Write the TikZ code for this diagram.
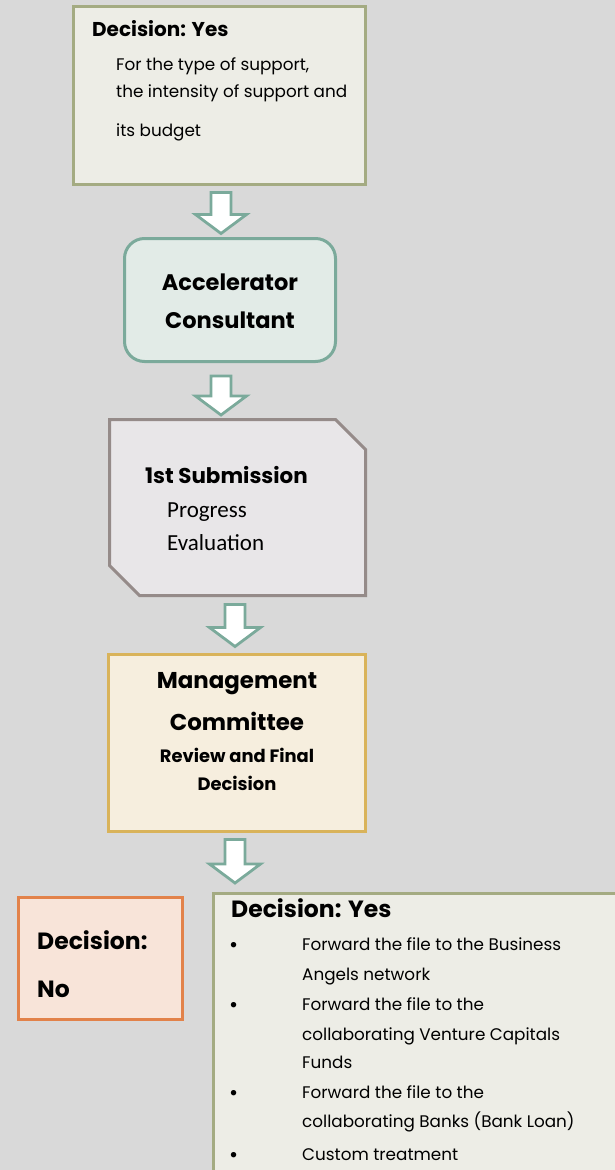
\documentclass[tikz,border=0pt]{standalone}
\usepackage{fontspec}
\setmainfont{Poppins}
\newfontfamily\califont{Carlito}
\usetikzlibrary{calc,positioning}

\definecolor{bggray}{HTML}{D9D9D9}
\definecolor{olivedraw}{HTML}{A4AB82}
\definecolor{olivefill}{HTML}{EDEDE6}
\definecolor{tealdraw}{HTML}{7BAA9B}
\definecolor{tealfill}{HTML}{E2EBE7}
\definecolor{greydraw}{HTML}{958B89}
\definecolor{greyfill}{HTML}{E8E6E8}
\definecolor{golddraw}{HTML}{D9B35A}
\definecolor{goldfill}{HTML}{F6EEDE}
\definecolor{orangedraw}{HTML}{E2824A}
\definecolor{orangefill}{HTML}{F8E4D9}

\tikzset{
  box/.style={line width=3pt, inner sep=0pt},
  yesbox/.style={box, draw=olivedraw, fill=olivefill},
  consbox/.style={box, draw=tealdraw, fill=tealfill, rounded corners=20pt},
  subbox/.style={box, outer sep=0pt},
  subline/.style={line width=3pt, draw=greydraw, fill=greyfill, line join=miter},
  mgmtbox/.style={box, draw=golddraw, fill=goldfill},
  nobox/.style={box, draw=orangedraw, fill=orangefill},
  blockarrow/.style={draw=tealdraw, fill=white, line width=2.8pt, line join=miter},
  head/.style={inner sep=0pt, anchor=base west, font=\bfseries\fontsize{20}{24}\selectfont},
  body/.style={inner sep=0pt, anchor=base west, font=\fontsize{16.8}{20}\selectfont},
  bulletmark/.style={inner sep=0pt, anchor=base west, text depth=0pt, font=\fontsize{22}{24}\selectfont},
  mid/.style={inner sep=0pt, anchor=base, font=\bfseries\fontsize{22.5}{26}\selectfont},
}

% block arrow: from, to, xshift, top gap, tip gap
\newcommand{\downblock}[5]{%
  \coordinate (s) at ($(#1.south)+(#3,#4)$);
  \coordinate (t) at ($(s |- #2.north)+(0,-#5)$);
  \draw[blockarrow] ($(s)+(-10,0)$) -- ($(s)+(10,0)$) -- ($(t)+(10,-19)$)
    -- ($(t)+(25.5,-19)$) -- (t) -- ($(t)+(-25.5,-19)$) -- ($(t)+(-10,-19)$) -- cycle;
}

\begin{document}
\begin{tikzpicture}[x=1pt, y=-1pt]
  % Page and background
  \useasboundingbox (0,0) rectangle (615,1170);
  \fill[bggray] (0,0) rectangle (615,1170);
  \clip (0,0) rectangle (615,1170);

  % Draw boxes
  \node[yesbox, minimum width=292pt, minimum height=178pt] (yesTop) at (219.5,95.5) {};
  \node[consbox, minimum width=211pt, minimum height=123pt] (accel) at (230,300) {};
  \node[subbox, minimum width=256pt, minimum height=176pt] (subm) at (237.5,507.5) {};
  \draw[subline] (subm.north west) -- ($(subm.north east)+(-30,0)$) -- ($(subm.north east)+(0,30)$)
    -- (subm.south east) -- ($(subm.south west)+(30,0)$) -- ($(subm.south west)+(0,-30)$) -- cycle;
  \node[mgmtbox, minimum width=257pt, minimum height=177pt] (mgmt) at (237,743) {};
  \node[nobox, minimum width=164pt, minimum height=122pt] (decNo) at (100.5,958.5) {};
  \node[yesbox, anchor=north west, minimum width=450pt, minimum height=350pt] (decYes) at (211.5,891.5) {};

  % Draw arrows
  \downblock{yesTop}{accel}{1.5}{6.5}{3.5}
  \downblock{accel}{subm}{-9}{13}{4.5}
  \downblock{subm}{mgmt}{-2.5}{9}{6.5}
  \downblock{mgmt}{decYes}{-2}{6.5}{8.5}

  % Label top box
  \node[head] (topHead) at (92,36) {Decision: Yes};
  \node[body] (topL1) at (116,70) {For the type of support,};
  \node[body] (topL2) at (116,97) {the intensity of support and};
  \node[body] (topL3) at (116,136) {its budget};

  % Label consultant
  \node[mid] (accL1) at (230,290) {Accelerator};
  \node[mid] (accL2) at (230,328) {Consultant};

  % Label submission
  \node[head, font=\bfseries\fontsize{21.4}{25}\selectfont] (subHead) at (145,483) {1st Submission};
  \node[body, font=\califont\fontsize{23}{27}\selectfont] (subL1) at (167,517) {Progress};
  \node[body, font=\califont\fontsize{23}{27}\selectfont] (subL2) at (167,550) {Evaluation};

  % Label committee
  \node[mid, font=\bfseries\fontsize{22.9}{27}\selectfont] (mgL1) at (237,688) {Management};
  \node[mid, font=\bfseries\fontsize{22.9}{27}\selectfont] (mgL2) at (237,730) {Committee};
  \node[mid, font=\bfseries\fontsize{17.9}{21}\selectfont] (mgL3) at (237,762) {Review and Final};
  \node[mid, font=\bfseries\fontsize{17.9}{21}\selectfont] (mgL4) at (237,790) {Decision};

  % Label decision no
  \node[head, font=\bfseries\fontsize{23.5}{28}\selectfont] (noL1) at (37,949) {Decision:};
  \node[head, font=\bfseries\fontsize{23.5}{28}\selectfont] (noL2) at (37,997) {No};

  % Label decision yes
  \node[head, font=\bfseries\fontsize{23.5}{28}\selectfont] (yesHead) at (231,917) {Decision: Yes};
  \foreach \y/\name in {952/b1, 1012/b2, 1100/b3, 1162/b4}
    \node[bulletmark] (\name) at (229,\y) {\textbullet};
  \node[body] (yL1) at (302,950) {Forward the file to the Business};
  \node[body] (yL2) at (302,980) {Angels network};
  \node[body] (yL3) at (302,1010) {Forward the file to the};
  \node[body] (yL4) at (302,1040) {collaborating Venture Capitals};
  \node[body] (yL5) at (302,1068) {Funds};
  \node[body] (yL6) at (302,1098) {Forward the file to the};
  \node[body] (yL7) at (302,1127) {collaborating Banks (Bank Loan)};
  \node[body] (yL8) at (302,1160) {Custom treatment};

\end{tikzpicture}
\end{document}
